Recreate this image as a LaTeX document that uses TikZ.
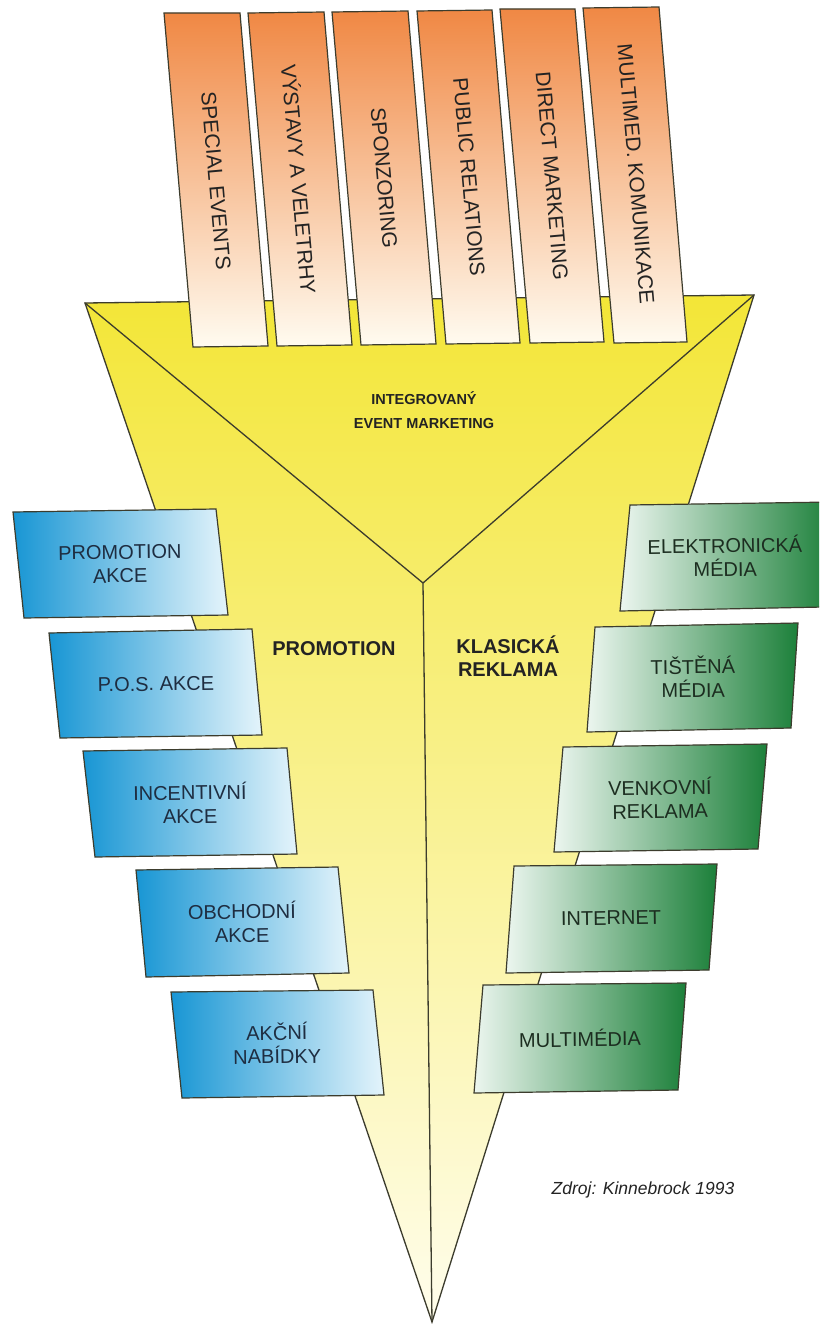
\documentclass[tikz,border=0pt]{standalone}
\usepackage{fontspec}
\setmainfont{Liberation Sans}
\definecolor{funnelY}{RGB}{243,230,55}
\definecolor{funnelM}{RGB}{248,239,125}
\definecolor{funnelP}{RGB}{255,253,236}
\definecolor{orangeT}{RGB}{240,136,68}
\definecolor{orangeM}{RGB}{245,170,112}
\definecolor{orangeB}{RGB}{255,251,240}
\definecolor{blueD}{RGB}{24,150,212}
\definecolor{blueM}{RGB}{80,178,226}
\definecolor{blueL}{RGB}{228,244,251}
\definecolor{greenD}{RGB}{28,128,58}
\definecolor{greenM}{RGB}{88,166,108}
\definecolor{greenL}{RGB}{236,246,239}
\definecolor{edge}{RGB}{60,60,45}
\definecolor{ink}{RGB}{35,35,35}
\definecolor{blueink}{RGB}{30,45,65}
\definecolor{greenink}{RGB}{28,45,32}
\begin{document}
\begin{tikzpicture}[x=1pt,y=-1pt,
  funnelline/.style={draw=edge,line width=1.3pt},
  orangebox/.style={draw=edge,line width=1.2pt,top color=orangeT,middle color=orangeM,bottom color=orangeB},
  bluebox/.style={draw=edge,line width=1.2pt,left color=blueD,middle color=blueM,right color=blueL},
  greenbox/.style={draw=edge,line width=1.2pt,left color=greenL,middle color=greenM,right color=greenD},
  otext/.style={font=\fontsize{21}{23}\selectfont,text=ink,inner sep=0pt,rotate=-85},
  btext/.style={font=\fontsize{20}{23.5}\selectfont,text=blueink,align=center,inner sep=0pt,rotate=0.8},
  gtext/.style={font=\fontsize{20}{23.5}\selectfont,text=greenink,align=center,inner sep=0pt,rotate=0.8},
  headtext/.style={font=\bfseries\fontsize{20}{23.5}\selectfont,text=ink,align=center,inner sep=0pt},
  toptext/.style={font=\bfseries\fontsize{14.5}{24}\selectfont,text=ink,align=center,inner sep=0pt}
]
\useasboundingbox (0,0) rectangle (819,1324);
\clip (0,0) rectangle (819,1324);
\fill[white] (0,0) rectangle (819,1324);

% funnel
\coordinate (tl) at (85,303);
\coordinate (tr) at (754,295);
\coordinate (tip) at (432,1322);
\coordinate (ctr) at (423,583);
\path[top color=funnelY,middle color=funnelM,bottom color=funnelP] (tl) -- (tr) -- (tip) -- cycle;
\draw[funnelline,line join=miter] (tl) -- (tr) -- (tip) -- cycle;
\draw[funnelline] (tl) -- (ctr);
\draw[funnelline] (tr) -- (ctr);
\draw[funnelline] (ctr) -- (tip);

% communication tools on top
\draw[orangebox] (164,13) -- (240,13) -- (268,346) -- (193,347) -- cycle;
\draw[orangebox] (248,13) -- (324,12) -- (352,345) -- (277,346) -- cycle;
\draw[orangebox] (332,12) -- (408,11) -- (436,344) -- (361,345) -- cycle;
\draw[orangebox] (417,11) -- (492,10) -- (520,343) -- (446,344) -- cycle;
\draw[orangebox] (500,9) -- (575,9) -- (604,342) -- (530,343) -- cycle;
\draw[orangebox] (583,8) -- (659,7) -- (687,342) -- (614,343) -- cycle;
\node[otext] (o1) at (216,181) {SPECIAL EVENTS};
\node[otext] (o2) at (300,179) {VÝSTAVY A VELETRHY};
\node[otext] (o3) at (384,178) {SPONZORING};
\node[otext] (o4) at (469,177) {PUBLIC RELATIONS};
\node[otext] (o5) at (552,176) {DIRECT MARKETING};
\node[otext] (o6) at (636,174) {MULTIMED. KOMUNIKACE};

% promotion side
\draw[bluebox] (13,512) -- (216,509) -- (228,615) -- (24,618) -- cycle;
\draw[bluebox] (49,633) -- (252,629) -- (262,735) -- (60,738) -- cycle;
\draw[bluebox] (83,751) -- (287,748) -- (297,854) -- (95,857) -- cycle;
\draw[bluebox] (136,870) -- (338,867) -- (349,973) -- (146,977) -- cycle;
\draw[bluebox] (171,992) -- (373,990) -- (384,1095) -- (182,1098) -- cycle;
\node[btext] (b1) at (120,564) {PROMOTION\\AKCE};
\node[btext] (b2) at (156,684) {P.O.S. AKCE};
\node[btext] (b3) at (190,803) {INCENTIVNÍ\\AKCE};
\node[btext] (b4) at (242,922) {OBCHODNÍ\\AKCE};
\node[btext] (b5) at (277,1043) {AKČNÍ\\NABÍDKY};

% classic advertising side
\draw[greenbox] (630,505) -- (833,502) -- (824,607) -- (620,611) -- cycle;
\draw[greenbox] (595,627) -- (798,623) -- (791,728) -- (587,732) -- cycle;
\draw[greenbox] (563,747) -- (767,744) -- (758,849) -- (554,852) -- cycle;
\draw[greenbox] (514,866) -- (717,864) -- (709,970) -- (506,973) -- cycle;
\draw[greenbox] (483,985) -- (686,983) -- (678,1090) -- (474,1093) -- cycle;
\node[gtext] (g1) at (725,556) {ELEKTRONICKÁ\\MÉDIA};
\node[gtext] (g2) at (693,677) {TIŠTĚNÁ\\MÉDIA};
\node[gtext] (g3) at (660,798) {VENKOVNÍ\\REKLAMA};
\node[gtext] (g4) at (611,918) {INTERNET};
\node[gtext] (g5) at (580,1038) {MULTIMÉDIA};

% section labels
\node[toptext] (iem) at (424,410) {INTEGROVANÝ\\EVENT MARKETING};
\node[headtext] (promo) at (334,649) {PROMOTION};
\node[headtext] (klas) at (508,656) {KLASICKÁ\\REKLAMA};

% source
\node[font=\itshape\fontsize{17.5}{20}\selectfont,text=ink,inner sep=0pt] (src) at (643,1190) {Zdroj: Kinnebrock 1993};
\end{tikzpicture}
\end{document}
